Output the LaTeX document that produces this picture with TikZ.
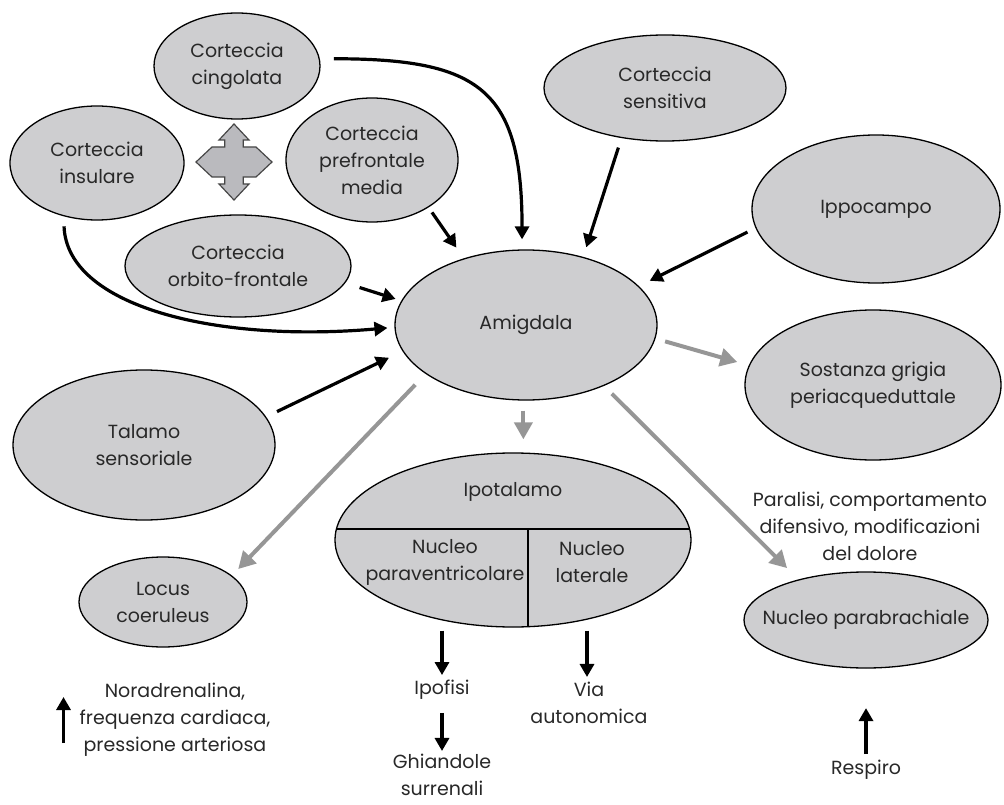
\documentclass[tikz,border=0pt]{standalone}
\usepackage{fontspec}
\setmainfont{Poppins}
\usepackage{tikz}
\usetikzlibrary{arrows.meta}
\usetikzlibrary{shapes.geometric, calc}

\definecolor{regiongray}{RGB}{206,206,208}
\definecolor{pathgray}{RGB}{150,150,150}
\definecolor{crossgray}{RGB}{186,186,190}
\definecolor{crossedge}{RGB}{70,70,70}
\definecolor{inkgray}{RGB}{40,40,40}
\newcommand{\regfont}{\fontsize{19}{27}\selectfont}

\begin{document}
\begin{tikzpicture}[x=1pt, y=-1pt,
  blob/.style={ellipse, draw=black, line width=1.3pt, fill=regiongray, inner sep=0pt},
  every label/.style={align=center, font=\regfont, text=inkgray},
  txt/.style={align=center, font=\regfont, text=inkgray, inner sep=1pt},
  feed/.style={line width=3.2pt, -{Triangle[length=13pt,width=14pt]}},
  outp/.style={draw=pathgray, line width=4pt, -{Triangle[length=17pt,width=18pt]}}]
\useasboundingbox (0,0) rectangle (1004,805);

%cortical regions
\node[blob, minimum width=166pt, minimum height=106pt, label={center:Corteccia\\cingolata}] (cing) at (237,66) {};
\node[blob, minimum width=174pt, minimum height=114pt, label={center:Corteccia\\insulare}] (ins) at (97,163) {};
\node[blob, minimum width=172pt, minimum height=124pt, label={center:Corteccia\\prefrontale\\media}] (pref) at (372,160) {};
\node[blob, minimum width=226pt, minimum height=102pt, label={center:Corteccia\\orbito-frontale}] (orb) at (238,266) {};
\node[blob, minimum width=242pt, minimum height=106pt, label={center:Corteccia\\sensitiva}] (sens) at (665,88) {};
\node[blob, minimum width=248pt, minimum height=148pt, label={center:Ippocampo}] (ippo) at (876,209) {};
\node[blob, minimum width=262pt, minimum height=150pt, label={center:Talamo\\sensoriale}] (tal) at (144,445) {};

%four way arrow
\draw[draw=crossedge, fill=crossgray, line width=1.2pt, shift={(234,162)}]
  (0,-38) -- (15,-22) -- (9.3,-22) -- (9.3,-15) -- (22,-15) -- (38,0)
  -- (22,15) -- (9.3,15) -- (9.3,22) -- (15,22) -- (0,38)
  -- (-15,22) -- (-9.3,22) -- (-9.3,15) -- (-22,15) -- (-38,0)
  -- (-22,-15) -- (-9.3,-15) -- (-9.3,-22) -- (-15,-22) -- cycle;

%amygdala and targets
\node[blob, minimum width=262pt, minimum height=150pt, label={center:Amigdala}] (amig) at (526,325) {};
\node[blob, minimum width=256pt, minimum height=150pt, label={center:Sostanza grigia\\periacqueduttale}] (sost) at (873,385) {};
\node[blob, minimum width=168pt, minimum height=90pt, label={center:Locus\\coeruleus}] (loc) at (163,602) {};
\node[blob, minimum width=244pt, minimum height=96pt, label={center:Nucleo parabrachiale}] (parab) at (866,620) {};
\node[blob, minimum width=356pt, minimum height=174pt] (ipo) at (513,540) {};

%hypothalamus split
\begin{scope}
\clip (ipo.center) ellipse (178 and 87);
\draw[line width=1.3pt] (330,529) -- (700,529);
\draw[line width=1.3pt] (528,529) -- (528,640);
\end{scope}
\node[txt] (ipot) at (513,492) {Ipotalamo};
\node[txt] (pvn) at (445,562) {Nucleo\\paraventricolare};
\node[txt] (lat) at (592,562) {Nucleo\\laterale};

%effects
\node[txt] (para) at (870,526) {Paralisi, comportamento\\difensivo, modificazioni\\del dolore};
\node[txt] (nora) at (175,720) {Noradrenalina,\\frequenza cardiaca,\\pressione arteriosa};
\node[txt] (ipof) at (442,690) {Ipofisi};
\node[txt] (ghi) at (442,775) {Ghiandole\\surrenali};
\node[txt] (via) at (589,703) {Via\\autonomica};
\node[txt] (resp) at (866,770) {Respiro};

%inputs
\draw[feed, shorten <=14pt, shorten >=10pt] (cing.5) .. controls +(0:160pt) and +(90:160pt) .. (amig.93);
\draw[feed, shorten <=10pt, shorten >=10pt] (sens.229) -- (amig.50);
\draw[feed, shorten <=9pt, shorten >=12pt] (ippo.189) -- (amig.19);
\draw[feed, shorten <=6pt, shorten >=13pt] (pref.-40) -- (amig.133);
\draw[feed, shorten <=15pt, shorten >=6pt] (orb.-9) -- (amig.169);
\draw[feed, shorten <=10pt, shorten >=7pt] (ins.238) .. controls +(-88:90pt) and +(185:180pt) .. (amig.181);
\draw[feed, shorten <=12pt, shorten >=15pt] (tal.13.5) -- (amig.192);

%outputs
\draw[outp, shorten <=10pt, shorten >=13pt] (amig.-92) -- (amig.-92 |- ipo.north);
\draw[outp, shorten <=10pt, shorten >=12pt] (amig.-6) -- (sost.171);
\draw[outp, shorten <=15pt, shorten >=9pt] (amig.206) -- (loc.21);
\draw[outp, shorten <=11pt, shorten >=16pt] (amig.-38) -- (parab.149);

\draw[feed, shorten <=3pt, shorten >=4pt] (ipof.north |- ipo.south) -- (ipof.north);
\draw[feed, shorten <=12pt, shorten >=2pt] (ipof.south) -- (ghi.north);
\draw[feed, shorten <=3pt, shorten >=4pt] ($(via.north |- ipo.south)+(-2,0)$) -- ($(via.north)+(-2,0)$);

\coordinate (upfoot) at ($(nora.west)+(-15,23)$);
\draw[feed] (upfoot) -- ++(0,-46);
\coordinate (respfoot) at ($(resp.north)+(0,-5)$);
\draw[feed] (respfoot) -- ++(0,-46);

\end{tikzpicture}
\end{document}
